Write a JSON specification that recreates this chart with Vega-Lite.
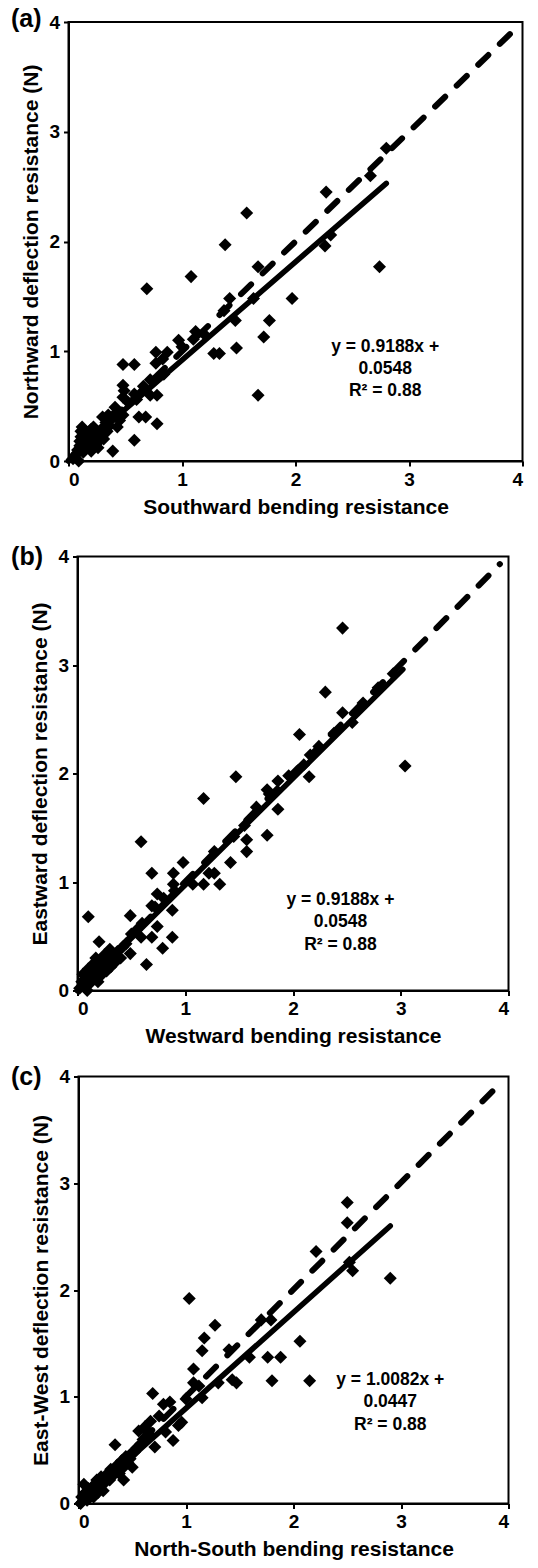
{
  "$schema": "https://vega.github.io/schema/vega-lite/v6.json",
  "padding": {"left": 9.5, "top": 5, "right": 0, "bottom": 0},
  "background": "white",
  "config": {
    "font": "Liberation Sans",
    "view": {"stroke": "black", "strokeWidth": 2},
    "axis": {"grid": false, "domainColor": "black", "domainWidth": 2, "tickColor": "black", "tickWidth": 2, "tickSize": 5,
      "labelFont": "Liberation Sans", "labelFontSize": 19, "labelFontWeight": "bold", "labelColor": "black", "labelPadding": 4,
      "titleFont": "Liberation Sans", "titleFontSize": 21, "titleFontWeight": "bold", "titleColor": "black", "titlePadding": 7}
  },
  "datasets": {
    "blank": [{"k": 1}],
    "a_pts": [
      {"x":0.04,"y":0.02},{"x":0.06,"y":0.05},{"x":0.09,"y":0.0},{"x":0.08,"y":0.1},{"x":0.1,"y":0.14},{"x":0.1,"y":0.18},{"x":0.11,"y":0.22},{"x":0.11,"y":0.27},{"x":0.12,"y":0.31},{"x":0.13,"y":0.08},
      {"x":0.14,"y":0.16},{"x":0.15,"y":0.11},{"x":0.16,"y":0.21},{"x":0.17,"y":0.26},{"x":0.18,"y":0.14},{"x":0.19,"y":0.19},{"x":0.2,"y":0.09},{"x":0.2,"y":0.29},{"x":0.21,"y":0.23},{"x":0.22,"y":0.31},
      {"x":0.23,"y":0.15},{"x":0.24,"y":0.2},{"x":0.25,"y":0.26},{"x":0.26,"y":0.12},{"x":0.27,"y":0.18},{"x":0.28,"y":0.23},{"x":0.3,"y":0.4},{"x":0.3,"y":0.3},{"x":0.31,"y":0.2},{"x":0.33,"y":0.35},
      {"x":0.34,"y":0.27},{"x":0.35,"y":0.42},{"x":0.36,"y":0.32},{"x":0.38,"y":0.38},{"x":0.39,"y":0.09},{"x":0.41,"y":0.49},{"x":0.42,"y":0.44},{"x":0.43,"y":0.31},{"x":0.45,"y":0.37},{"x":0.48,"y":0.42},
      {"x":0.48,"y":0.88},{"x":0.58,"y":0.88},{"x":0.48,"y":0.69},{"x":0.49,"y":0.64},{"x":0.48,"y":0.58},{"x":0.58,"y":0.61},{"x":0.53,"y":0.53},{"x":0.58,"y":0.19},{"x":0.62,"y":0.4},{"x":0.68,"y":0.4},
      {"x":0.72,"y":0.6},{"x":0.78,"y":0.6},{"x":0.78,"y":0.34},{"x":0.66,"y":0.68},{"x":0.72,"y":0.74},{"x":0.77,"y":0.89},{"x":0.77,"y":0.99},{"x":0.83,"y":0.93},{"x":0.84,"y":0.79},{"x":0.87,"y":0.99},
      {"x":0.97,"y":1.1},{"x":1.0,"y":1.04},{"x":1.1,"y":1.11},{"x":1.12,"y":1.18},{"x":1.08,"y":1.68},{"x":0.69,"y":1.57},{"x":1.28,"y":0.98},{"x":1.33,"y":0.98},{"x":1.37,"y":1.37},{"x":1.42,"y":1.48},
      {"x":1.47,"y":1.28},{"x":1.48,"y":1.03},{"x":1.57,"y":2.26},{"x":1.38,"y":1.97},{"x":1.63,"y":1.48},{"x":1.67,"y":1.77},{"x":1.67,"y":0.6},{"x":1.72,"y":1.13},{"x":1.77,"y":1.28},{"x":1.97,"y":1.48},
      {"x":2.26,"y":1.96},{"x":2.31,"y":2.06},{"x":2.27,"y":2.45},{"x":2.66,"y":2.6},{"x":2.8,"y":2.85},{"x":2.74,"y":1.77},{"x":1.2,"y":1.15},{"x":0.6,"y":0.56}
    ],
    "a_dash": [{"x":0,"y":0},{"x":3.93,"y":3.93}],
    "a_fit": [{"x":0.04,"y":0.06},{"x":2.8,"y":2.53}],
    "a_txt": [{"x":2.79,"y":1.04,"label":"y = 0.9188x +"},{"x":2.79,"y":0.84,"label":"0.0548"},{"x":2.79,"y":0.64,"label":"R² = 0.88"}],
    "a_tag": [{"x":-0.238,"y":4.03,"label":"(a)"}],
    "b_pts": [
      {"x":0.02,"y":0.02},{"x":0.04,"y":0.08},{"x":0.05,"y":0.15},{"x":0.07,"y":0.04},{"x":0.09,"y":0.0},{"x":0.1,"y":0.11},{"x":0.1,"y":0.2},{"x":0.12,"y":0.07},{"x":0.13,"y":0.16},{"x":0.15,"y":0.25},
      {"x":0.15,"y":0.12},{"x":0.17,"y":0.3},{"x":0.18,"y":0.2},{"x":0.19,"y":0.08},{"x":0.2,"y":0.45},{"x":0.21,"y":0.28},{"x":0.22,"y":0.14},{"x":0.24,"y":0.22},{"x":0.25,"y":0.33},{"x":0.27,"y":0.18},
      {"x":0.28,"y":0.27},{"x":0.3,"y":0.38},{"x":0.31,"y":0.22},{"x":0.33,"y":0.31},{"x":0.35,"y":0.26},{"x":0.37,"y":0.36},{"x":0.4,"y":0.3},{"x":0.42,"y":0.4},{"x":0.45,"y":0.43},
      {"x":0.1,"y":0.68},{"x":0.49,"y":0.69},{"x":0.49,"y":0.34},{"x":0.5,"y":0.52},{"x":0.55,"y":0.56},{"x":0.59,"y":1.37},{"x":0.59,"y":0.49},{"x":0.64,"y":0.24},{"x":0.6,"y":0.62},{"x":0.69,"y":0.49},
      {"x":0.69,"y":1.08},{"x":0.69,"y":0.78},{"x":0.72,"y":0.77},{"x":0.74,"y":0.59},{"x":0.74,"y":0.89},{"x":0.79,"y":0.39},{"x":0.8,"y":0.85},{"x":0.88,"y":0.49},{"x":0.88,"y":0.74},{"x":0.89,"y":1.08},
      {"x":0.89,"y":0.98},{"x":0.9,"y":0.92},{"x":0.98,"y":1.18},{"x":1.07,"y":0.98},{"x":1.17,"y":0.98},{"x":1.17,"y":1.77},{"x":1.22,"y":1.08},{"x":1.27,"y":1.08},{"x":1.27,"y":1.28},{"x":1.32,"y":0.98},
      {"x":1.42,"y":1.18},{"x":1.45,"y":1.42},{"x":1.47,"y":1.97},{"x":1.55,"y":1.52},{"x":1.57,"y":1.39},{"x":1.57,"y":1.28},{"x":1.66,"y":1.69},{"x":1.76,"y":1.43},{"x":1.76,"y":1.85},{"x":1.78,"y":1.81},
      {"x":1.86,"y":1.67},{"x":1.86,"y":1.93},{"x":1.96,"y":1.98},{"x":2.06,"y":2.36},{"x":2.1,"y":2.08},{"x":2.15,"y":1.97},{"x":2.16,"y":2.17},{"x":2.24,"y":2.25},{"x":2.3,"y":2.75},{"x":2.38,"y":2.37},
      {"x":2.46,"y":3.34},{"x":2.46,"y":2.56},{"x":2.55,"y":2.47},{"x":2.65,"y":2.65},{"x":2.79,"y":2.79},{"x":2.93,"y":2.92},{"x":3.04,"y":2.07}
    ],
    "b_dash": [{"x":0,"y":0},{"x":3.92,"y":3.93}],
    "b_fit": [{"x":0.03,"y":0.02},{"x":3.02,"y":2.96}],
    "b_txt": [{"x":2.44,"y":0.83,"label":"y = 0.9188x +"},{"x":2.44,"y":0.63,"label":"0.0548"},{"x":2.44,"y":0.42,"label":"R² = 0.88"}],
    "b_tag": [{"x":-0.32,"y":4.0,"label":"(b)"}],
    "c_pts": [
      {"x":0.02,"y":0.0},{"x":0.03,"y":0.06},{"x":0.05,"y":0.18},{"x":0.06,"y":0.1},{"x":0.08,"y":0.03},{"x":0.09,"y":0.14},{"x":0.1,"y":0.08},{"x":0.12,"y":0.12},{"x":0.14,"y":0.06},{"x":0.15,"y":0.18},
      {"x":0.17,"y":0.22},{"x":0.18,"y":0.1},{"x":0.2,"y":0.16},{"x":0.21,"y":0.25},{"x":0.23,"y":0.12},{"x":0.25,"y":0.2},{"x":0.27,"y":0.28},{"x":0.29,"y":0.22},{"x":0.3,"y":0.32},{"x":0.32,"y":0.26},
      {"x":0.34,"y":0.3},{"x":0.34,"y":0.55},{"x":0.36,"y":0.36},{"x":0.38,"y":0.28},{"x":0.4,"y":0.4},{"x":0.42,"y":0.22},{"x":0.42,"y":0.34},{"x":0.44,"y":0.44},{"x":0.46,"y":0.38},{"x":0.48,"y":0.42},
      {"x":0.5,"y":0.34},{"x":0.52,"y":0.48},{"x":0.54,"y":0.52},{"x":0.56,"y":0.68},{"x":0.58,"y":0.56},{"x":0.6,"y":0.6},{"x":0.62,"y":0.72},{"x":0.65,"y":0.66},
      {"x":0.69,"y":1.03},{"x":0.67,"y":0.77},{"x":0.71,"y":0.53},{"x":0.75,"y":0.82},{"x":0.79,"y":0.93},{"x":0.81,"y":0.67},{"x":0.85,"y":0.95},{"x":0.88,"y":0.59},{"x":0.93,"y":0.73},{"x":0.96,"y":0.76},
      {"x":1.0,"y":0.98},{"x":1.03,"y":1.92},{"x":1.07,"y":1.26},{"x":1.07,"y":1.13},{"x":1.12,"y":1.1},{"x":1.15,"y":0.99},{"x":1.15,"y":1.43},{"x":1.17,"y":1.55},{"x":1.27,"y":1.67},{"x":1.3,"y":1.13},
      {"x":1.4,"y":1.44},{"x":1.43,"y":1.16},{"x":1.47,"y":1.13},{"x":1.59,"y":1.37},{"x":1.7,"y":1.72},{"x":1.76,"y":1.37},{"x":1.79,"y":1.72},{"x":1.8,"y":1.15},{"x":1.88,"y":1.37},{"x":2.06,"y":1.52},
      {"x":2.15,"y":1.15},{"x":2.21,"y":2.36},{"x":2.5,"y":2.82},{"x":2.5,"y":2.63},{"x":2.52,"y":2.26},{"x":2.55,"y":2.18},{"x":2.9,"y":2.11}
    ],
    "c_dash": [{"x":0,"y":0},{"x":3.92,"y":3.93}],
    "c_fit": [{"x":0.03,"y":0.02},{"x":2.9,"y":2.6}],
    "c_txt": [{"x":2.9,"y":1.16,"label":"y = 1.0082x +"},{"x":2.9,"y":0.95,"label":"0.0447"},{"x":2.9,"y":0.74,"label":"R² = 0.88"}],
    "c_tag": [{"x":-0.344,"y":4.0,"label":"(c)"}]
  },
  "bounds": "flush",
  "spacing": 95.5,
  "vconcat": [
    {
      "width": 454, "height": 439,
      "encoding": {
        "x": {"field": "x", "type": "quantitative", "scale": {"domain": [0, 4], "nice": false}, "axis": {"values": [0,1,2,3,4], "title": "Southward bending resistance"}},
        "y": {"field": "y", "type": "quantitative", "scale": {"domain": [0, 4], "nice": false}, "axis": {"values": [0,1,2,3,4], "title": "Northward deflection resistance (N)"}}
      },
      "layer": [
        {"data": {"name": "a_pts"}, "mark": {"type": "point", "shape": "diamond", "filled": true, "size": 170, "color": "black", "opacity": 1}},
        {"data": {"name": "a_dash"}, "mark": {"type": "line", "color": "black", "strokeWidth": 6, "strokeCap": "round", "strokeDash": [14, 16]}},
        {"data": {"name": "a_fit"}, "mark": {"type": "line", "color": "black", "strokeWidth": 5.5, "strokeCap": "round"}},
        {"data": {"name": "a_txt"}, "mark": {"type": "text", "fontSize": 17.5, "fontWeight": "bold", "font": "Liberation Sans", "color": "black"}, "encoding": {"text": {"field": "label"}}},
        {"data": {"name": "a_tag"}, "mark": {"type": "text", "fontSize": 25, "fontWeight": "bold", "font": "Liberation Sans", "color": "black", "align": "right", "baseline": "middle"}, "encoding": {"text": {"field": "label"}}}
      ]
    },
    {
      "bounds": "flush",
      "spacing": 520,
      "vconcat": [
        {
          "bounds": "flush",
          "spacing": 0,
          "hconcat": [
            {"width": 9, "height": 434, "view": {"stroke": null}, "data": {"name": "blank"}, "mark": {"type": "point", "opacity": 0}, "encoding": {}},
            {
              "width": 431, "height": 434,
              "encoding": {
                "x": {"field": "x", "type": "quantitative", "scale": {"domain": [0, 4], "nice": false}, "axis": {"values": [0,1,2,3,4], "title": "Westward bending resistance"}},
                "y": {"field": "y", "type": "quantitative", "scale": {"domain": [0, 4], "nice": false}, "axis": {"values": [0,1,2,3,4], "title": "Eastward deflection resistance (N)"}}
              },
              "layer": [
                {"data": {"name": "b_pts"}, "mark": {"type": "point", "shape": "diamond", "filled": true, "size": 170, "color": "black", "opacity": 1}},
                {"data": {"name": "b_dash"}, "mark": {"type": "line", "color": "black", "strokeWidth": 6, "strokeCap": "round", "strokeDash": [14, 16]}},
                {"data": {"name": "b_fit"}, "mark": {"type": "line", "color": "black", "strokeWidth": 5.5, "strokeCap": "round"}},
                {"data": {"name": "b_txt"}, "mark": {"type": "text", "fontSize": 17.5, "fontWeight": "bold", "font": "Liberation Sans", "color": "black"}, "encoding": {"text": {"field": "label"}}},
                {"data": {"name": "b_tag"}, "mark": {"type": "text", "fontSize": 25, "fontWeight": "bold", "font": "Liberation Sans", "color": "black", "align": "right", "baseline": "middle"}, "encoding": {"text": {"field": "label"}}}
              ]
            }
          ]
        },
        {
          "bounds": "flush",
          "spacing": 0,
          "hconcat": [
            {"width": 10, "height": 427, "view": {"stroke": null}, "data": {"name": "blank"}, "mark": {"type": "point", "opacity": 0}, "encoding": {}},
            {
              "width": 430, "height": 427,
              "encoding": {
                "x": {"field": "x", "type": "quantitative", "scale": {"domain": [0, 4], "nice": false}, "axis": {"values": [0,1,2,3,4], "title": "North-South bending resistance"}},
                "y": {"field": "y", "type": "quantitative", "scale": {"domain": [0, 4], "nice": false}, "axis": {"values": [0,1,2,3,4], "title": "East-West deflection resistance (N)"}}
              },
              "layer": [
                {"data": {"name": "c_pts"}, "mark": {"type": "point", "shape": "diamond", "filled": true, "size": 170, "color": "black", "opacity": 1}},
                {"data": {"name": "c_dash"}, "mark": {"type": "line", "color": "black", "strokeWidth": 6, "strokeCap": "round", "strokeDash": [14, 16]}},
                {"data": {"name": "c_fit"}, "mark": {"type": "line", "color": "black", "strokeWidth": 5.5, "strokeCap": "round"}},
                {"data": {"name": "c_txt"}, "mark": {"type": "text", "fontSize": 17.5, "fontWeight": "bold", "font": "Liberation Sans", "color": "black"}, "encoding": {"text": {"field": "label"}}},
                {"data": {"name": "c_tag"}, "mark": {"type": "text", "fontSize": 25, "fontWeight": "bold", "font": "Liberation Sans", "color": "black", "align": "right", "baseline": "middle"}, "encoding": {"text": {"field": "label"}}}
              ]
            }
          ]
        }
      ]
    }
  ]
}
